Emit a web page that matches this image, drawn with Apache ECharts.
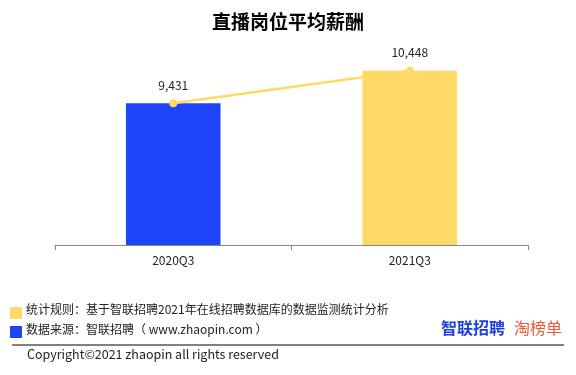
<!DOCTYPE html>
<html>
<head>
<meta charset="utf-8">
<script src="https://cdn.jsdelivr.net/npm/echarts@6/dist/echarts.min.js"></script>
<style>
html,body{margin:0;padding:0;background:#fff;}
#c{width:576px;height:375px;}
</style>
</head>
<body>
<div id="c"></div>
<script>
var categories = ['2020Q3', '2021Q3'];
var salaryValues = [9431, 10448];
var barColors = ['#1F45FC', '#FFD966'];
var titleText = '直播岗位平均薪酬';
var noteRule = '统计规则：基于智联招聘2021年在线招聘数据库的数据监测统计分析';
var noteSource = '数据来源：智联招聘（ www.zhaopin.com ）';
var copyrightText = 'Copyright©2021 zhaopin all rights reserved';

var FONT = '"Noto Sans CJK SC", "Noto Sans", sans-serif';
var chart = echarts.init(document.getElementById('c'), null, {renderer: 'canvas'});
chart.setOption({
  animation: false,
  textStyle: {fontFamily: FONT},
  title: {
    text: titleText, left: 'center', top: 7,
    textStyle: {fontSize: 19, fontWeight: 'bold', color: '#000', fontFamily: FONT}
  },
  grid: {left: 55, right: 48, top: 21, bottom: 130, containLabel: false},
  xAxis: {
    type: 'category', data: categories,
    axisLine: {lineStyle: {color: '#888', width: 1}},
    axisTick: {show: true, length: 5, lineStyle: {color: '#888'}},
    axisLabel: {color: '#222', fontSize: 12, margin: 9, fontFamily: FONT}
  },
  yAxis: {type: 'value', min: 5000, max: 12000, show: false, splitLine: {show: false}},
  series: [
    {
      type: 'bar', barWidth: '40%',
      data: salaryValues.map(function (v, i) { return {value: v, itemStyle: {color: barColors[i]}}; }),
      z: 2
    },
    {
      type: 'line', data: salaryValues, symbol: 'circle', symbolSize: 8,
      lineStyle: {color: '#FFD966', width: 2.5},
      itemStyle: {color: '#FFD966'},
      label: {
        show: true, position: 'top', distance: 8, color: '#222', fontSize: 12, fontFamily: FONT,
        formatter: function (p) { return p.value.toLocaleString('en-US'); }
      },
      z: 3
    }
  ],
  graphic: [
    {type: 'rect', shape: {x: 10, y: 307, width: 12, height: 12}, style: {fill: '#FFD966'}},
    {type: 'text', x: 26, y: 309, style: {text: noteRule, fill: '#222', font: '12px ' + FONT, textVerticalAlign: 'middle'}},
    {type: 'rect', shape: {x: 10, y: 326, width: 12, height: 12}, style: {fill: '#1F45FC'}},
    {type: 'text', x: 26, y: 329, style: {text: noteSource, fill: '#222', font: '12px ' + FONT, textVerticalAlign: 'middle'}},
    {type: 'text', x: 441, y: 328, style: {text: '智联招聘', fill: '#1D3FE0', font: 'bold 16px ' + FONT, textVerticalAlign: 'middle'}},
    {type: 'text', x: 514, y: 328, style: {text: '淘榜单', fill: '#F0573A', font: '16px ' + FONT, textVerticalAlign: 'middle'}},
    {type: 'line', shape: {x1: 12, y1: 345, x2: 564, y2: 345}, style: {stroke: '#000', lineWidth: 1}},
    {type: 'text', x: 27, y: 354, style: {text: copyrightText, fill: '#222', font: '12.5px ' + FONT, textVerticalAlign: 'middle'}}
  ]
});
</script>
</body>
</html>
